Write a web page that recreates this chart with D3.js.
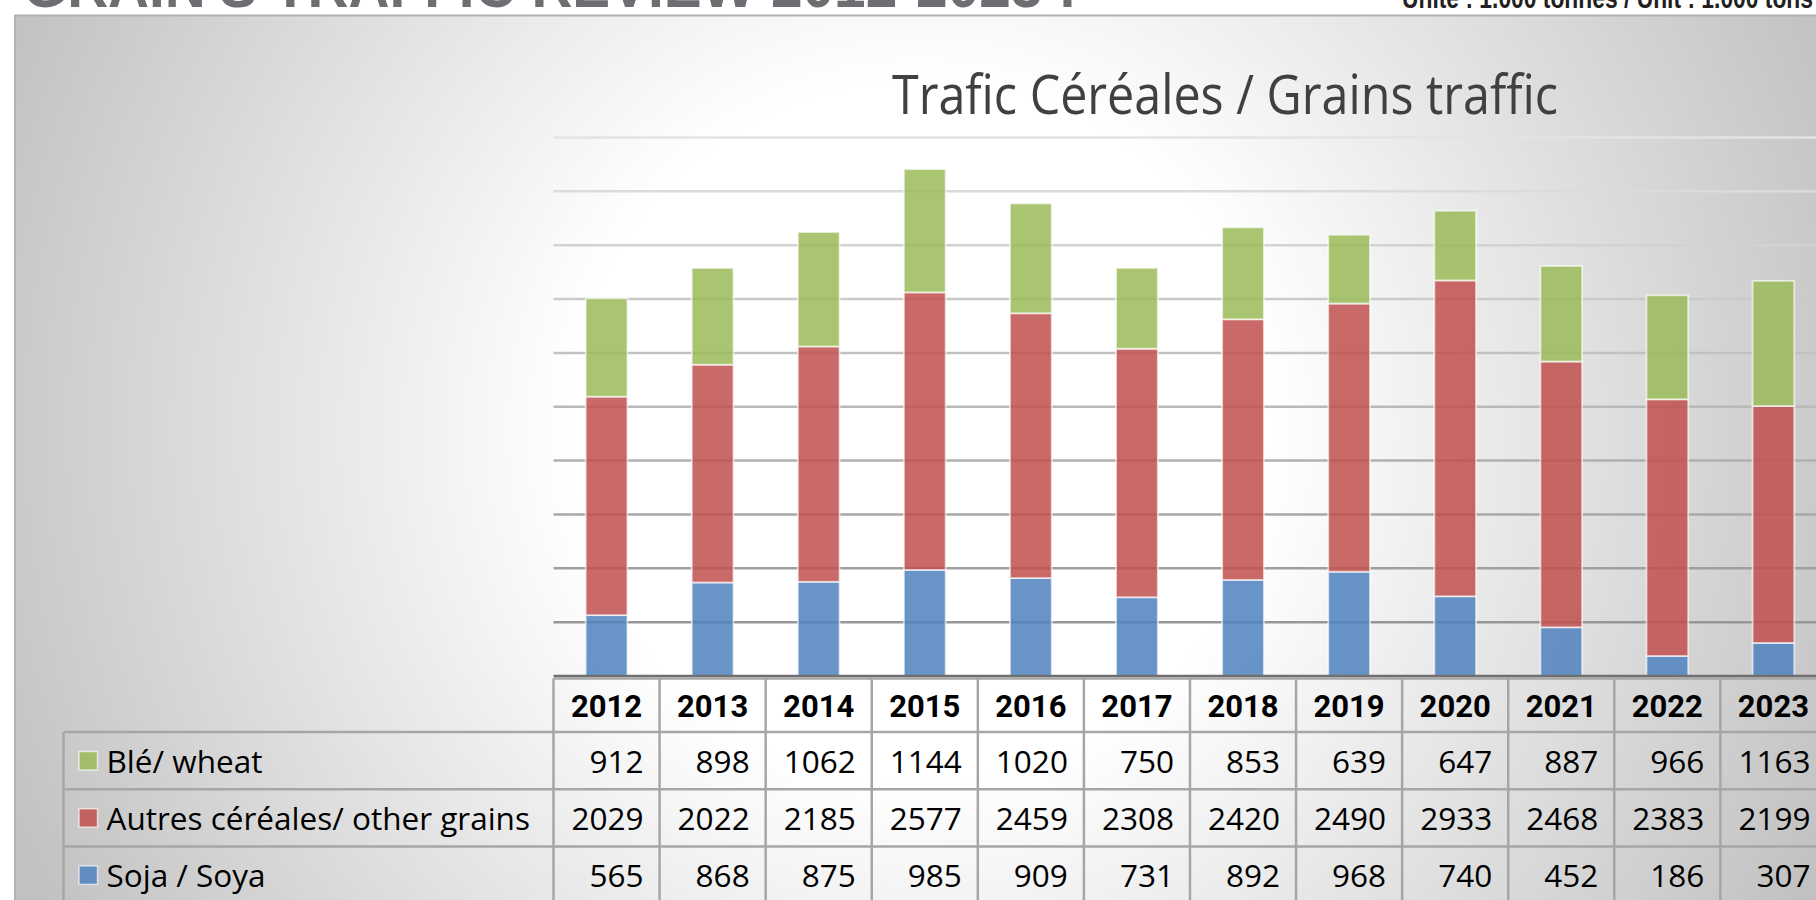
<!DOCTYPE html>
<html>
<head>
<meta charset="utf-8">
<script src="https://cdn.jsdelivr.net/npm/d3@7/dist/d3.min.js"></script>
<style>
  body { margin: 0; background: #fff; overflow: hidden; }
</style>
</head>
<body>
<script>
const years = ["2012", "2013", "2014", "2015", "2016", "2017", "2018", "2019", "2020", "2021", "2022", "2023"];
const wheat = [912, 898, 1062, 1144, 1020, 750, 853, 639, 647, 887, 966, 1163];
const otherGrains = [2029, 2022, 2185, 2577, 2459, 2308, 2420, 2490, 2933, 2468, 2383, 2199];
const soya = [565, 868, 875, 985, 909, 731, 892, 968, 740, 452, 186, 307];
const seriesKeys = ["wheat", "otherGrains", "soya"];
const seriesNames = ["Blé/ wheat", "Autres céréales/ other grains", "Soja / Soya"];
const seriesColors = ["#9bbb59", "#c0504d", "#4f81bd"];
const yMax = 5000;

const width = 1816, height = 900;
const plotLeft = 553.5, colStep = 106.08;
const legendLeft = 63.5;

const svg = d3.select("body").append("svg")
    .attr("width", width)
    .attr("height", height);

const defs = svg.append("defs");
const bgGrad = defs.append("radialGradient")
    .attr("id", "bgGrad")
    .attr("gradientUnits", "userSpaceOnUse")
    .attr("cx", 920).attr("cy", 430).attr("r", 1000);
bgGrad.append("stop").attr("offset", 0).attr("stop-color", "#ffffff");
bgGrad.append("stop").attr("offset", 0.35).attr("stop-color", "#ffffff");
bgGrad.append("stop").attr("offset", 1).attr("stop-color", "#c1c1c1");

// panel behind the chart
svg.append("rect")
    .attr("x", 15).attr("y", 15.5)
    .attr("width", width + 10).attr("height", height)
    .attr("fill", "url(#bgGrad)")
    .attr("stroke", "#b2b2b2")
    .attr("stroke-width", 2);

// page headings, mostly cut by the top edge
svg.append("text")
    .attr("x", 23).attr("y", 7)
    .attr("textLength", 1054)
    .attr("lengthAdjust", "spacingAndGlyphs")
    .style("font-family", "'Liberation Sans Narrow', 'Liberation Sans', sans-serif")
    .style("font-weight", 700)
    .style("font-size", "62px")
    .style("fill", "#6d6e71")
    .text("GRAIN'S TRAFFIC REVIEW 2012-2023 :");

svg.append("text")
    .attr("x", 1402).attr("y", 8)
    .attr("textLength", 411)
    .attr("lengthAdjust", "spacingAndGlyphs")
    .style("font-family", "'Liberation Sans Narrow', 'Liberation Sans', sans-serif")
    .style("font-weight", 700)
    .style("font-size", "30px")
    .style("fill", "#231f20")
    .text("Unité : 1.000 tonnes / Unit : 1.000 tons");

svg.append("text")
    .attr("x", 892).attr("y", 114)
    .attr("textLength", 666)
    .attr("lengthAdjust", "spacingAndGlyphs")
    .style("font-family", "'Open Sans', sans-serif")
    .style("font-size", "54px")
    .style("fill", "#404040")
    .text("Trafic Céréales / Grains traffic");

const x = d3.scaleBand()
    .domain(years)
    .range([plotLeft, plotLeft + colStep * years.length]);

const y = d3.scaleLinear()
    .domain([0, yMax])
    .range([676, 137.5]);

// gridlines get lighter towards the top
const gridTicks = y.ticks(10).filter(t => t > 0);
const gridColor = d3.interpolateRgb("#979797", "#e3e3e3");
svg.append("g").attr("id", "grid")
    .selectAll("line")
    .data(gridTicks)
    .enter().append("line")
    .attr("x1", plotLeft).attr("x2", width)
    .attr("y1", d => y(d)).attr("y2", d => y(d))
    .attr("stroke", (d, i) => gridColor(i / (gridTicks.length - 1)))
    .attr("stroke-width", 2.5);

const table = years.map((yr, i) => ({year: yr, wheat: wheat[i], otherGrains: otherGrains[i], soya: soya[i]}));
const stack = d3.stack().keys(["soya", "otherGrains", "wheat"]);
const layers = stack(table);
const colorOf = k => seriesColors[seriesKeys.indexOf(k)];

const barW = x.bandwidth() * 0.393;
const bars = svg.append("g").attr("id", "bars");
bars.selectAll("g")
    .data(layers)
    .enter().append("g")
    .attr("fill", d => colorOf(d.key))
    .attr("fill-opacity", 0.85)
    .selectAll("rect")
    .data(d => d)
    .enter().append("rect")
    .attr("x", d => x(d.data.year) + (x.bandwidth() - barW) / 2)
    .attr("y", d => y(d[1]))
    .attr("width", barW)
    .attr("height", d => y(d[0]) - y(d[1]))
    .attr("stroke", "rgba(255,255,255,0.65)")
    .attr("stroke-width", 1.8);

// category axis line
svg.append("line")
    .attr("x1", plotLeft).attr("x2", width)
    .attr("y1", 676).attr("y2", 676)
    .attr("stroke", "#6f6f6f")
    .attr("stroke-width", 2.5);

// data table under the chart
const headTop = 678.5, headBottom = 732, rowH = 57.2;
const rowTop = i => headBottom + i * rowH;
const tbl = svg.append("g").attr("id", "dataTable");
const lineColor = "#a6a6a6";

tbl.append("line")
    .attr("x1", plotLeft).attr("x2", width)
    .attr("y1", headTop).attr("y2", headTop)
    .attr("stroke", lineColor).attr("stroke-width", 2.5);

tbl.selectAll("line.row")
    .data(d3.range(seriesKeys.length + 1))
    .enter().append("line")
    .attr("class", "row")
    .attr("x1", legendLeft).attr("x2", width)
    .attr("y1", d => rowTop(d)).attr("y2", d => rowTop(d))
    .attr("stroke", lineColor).attr("stroke-width", 2.5);

tbl.append("line")
    .attr("x1", legendLeft).attr("x2", legendLeft)
    .attr("y1", headBottom).attr("y2", height)
    .attr("stroke", lineColor).attr("stroke-width", 2.5);

tbl.selectAll("line.col")
    .data(years)
    .enter().append("line")
    .attr("class", "col")
    .attr("x1", d => x(d)).attr("x2", d => x(d))
    .attr("y1", headTop).attr("y2", height)
    .attr("stroke", lineColor).attr("stroke-width", 2.5);

tbl.selectAll("text.year")
    .data(years)
    .enter().append("text")
    .attr("class", "year")
    .attr("x", d => x(d) + x.bandwidth() / 2)
    .attr("y", 717)
    .attr("text-anchor", "middle")
    .style("font-family", "Roboto, sans-serif")
    .style("font-weight", 700)
    .style("font-size", "31px")
    .style("fill", "#000")
    .text(d => d);

const seriesValues = {wheat: wheat, otherGrains: otherGrains, soya: soya};
seriesKeys.forEach((key, r) => {
    const row = tbl.append("g").attr("class", "series-row");
    row.append("rect")
        .attr("x", 79).attr("y", rowTop(r) + 19.5)
        .attr("width", 18.5).attr("height", 18.5)
        .attr("fill", seriesColors[r])
        .attr("fill-opacity", 0.85)
        .attr("stroke", "rgba(255,255,255,0.65)")
        .attr("stroke-width", 1.5);
    row.append("text")
        .attr("x", 106.5).attr("y", rowTop(r) + 41)
        .style("font-family", "'Open Sans', sans-serif")
        .style("font-size", "31.5px")
        .style("fill", "#000")
        .text(seriesNames[r]);
    row.selectAll("text.val")
        .data(seriesValues[key])
        .enter().append("text")
        .attr("class", "val")
        .attr("x", (d, i) => x(years[i]) + x.bandwidth() - 16)
        .attr("y", rowTop(r) + 41)
        .attr("text-anchor", "end")
        .style("font-family", "'Open Sans', sans-serif")
        .style("font-size", "31.5px")
        .style("fill", "#000")
        .text(d => d);
});
</script>
</body>
</html>
